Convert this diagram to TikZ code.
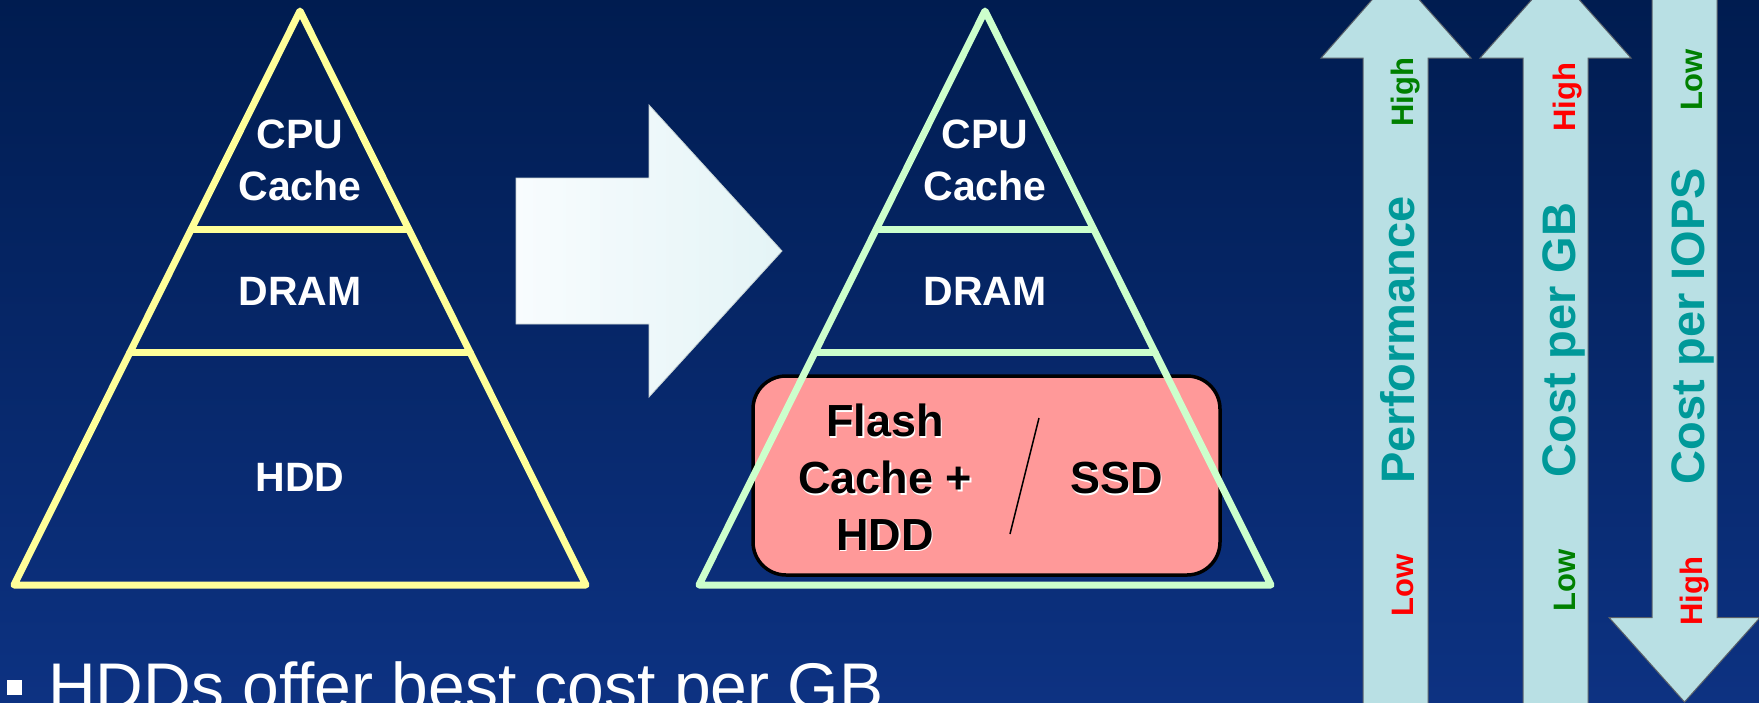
\documentclass[tikz,border=0pt]{standalone}
\usepackage{fontspec}
\setmainfont{Liberation Sans}
\usetikzlibrary{calc}
\definecolor{bgtop}{RGB}{0,28,80}
\definecolor{bgbot}{RGB}{13,50,130}
\definecolor{triyellow}{RGB}{255,255,153}
\definecolor{trigreen}{RGB}{204,255,204}
\definecolor{boxpink}{RGB}{255,153,153}
\definecolor{arrowfill}{RGB}{185,224,228}
\definecolor{arrowedge}{RGB}{90,96,104}
\definecolor{tealtext}{RGB}{0,153,153}
\definecolor{greentext}{RGB}{0,128,0}
\definecolor{redtext}{RGB}{255,0,0}
\definecolor{bigleft}{RGB}{248,252,254}
\definecolor{bigright}{RGB}{228,244,246}
\tikzset{
  trilbl/.style={font=\bfseries\fontsize{41}{50}\selectfont, text=white, anchor=base, inner sep=0},
  boxlbl/.style={font=\bfseries\fontsize{45}{55}\selectfont, text=black, anchor=base, inner sep=0},
  boxshadow/.style={font=\bfseries\fontsize{45}{55}\selectfont, text=white, anchor=base, inner sep=0},
  tri1/.style={draw=triyellow, line width=7, line join=round, line cap=round},
  tri2/.style={draw=trigreen, line width=7, line join=round, line cap=round},
  sidearrow/.style={fill=arrowfill, draw=arrowedge, line width=1},
  axislbl/.style={font=\bfseries\fontsize{47}{56}\selectfont, text=tealtext, rotate=90, anchor=base, inner sep=0},
  hilo/.style={font=\bfseries\fontsize{31}{36}\selectfont, rotate=90, anchor=base, inner sep=0},
}
\begin{document}
\begin{tikzpicture}[x=1pt,y=-1pt]
\useasboundingbox (0,0) rectangle (1759,702);
\clip (0,0) rectangle (1759,702);
\shade[top color=bgtop, bottom color=bgbot] (0,0) rectangle (1759,702);

% ---- left pyramid ----
\coordinate (A1) at (300,11);
\coordinate (L1) at (14,585);
\coordinate (R1) at (586,585);
\draw[tri1] (A1) -- (L1) -- (R1) -- cycle;
\draw[tri1] ($(A1)!0.3798!(L1)$) -- ($(A1)!0.3798!(R1)$);
\draw[tri1] ($(A1)!0.5958!(L1)$) -- ($(A1)!0.5958!(R1)$);
\node[trilbl] (cpuA) at (300,148) {CPU};
\node[trilbl] (cacheA) at (300,200) {Cache};
\node[trilbl] (dramA) at (300,305) {DRAM};
\node[trilbl] (hddA) at (300,491) {HDD};

% ---- big arrow ----
\draw[left color=bigleft, right color=bigright, draw=bigright!70!gray, line width=0.8]
  (516,178) -- (649,178) -- (649,105) -- (782,251) -- (649,397) -- (649,324) -- (516,324) -- cycle;

% ---- right pyramid ----
\coordinate (A2) at (985,11);
\coordinate (L2) at (699,585);
\coordinate (R2) at (1271,585);
\draw[fill=boxpink, draw=black, line width=3.5, rounded corners=33] (753,376) rectangle (1220,575);
\draw[tri2] (A2) -- (L2) -- (R2) -- cycle;
\draw[tri2] ($(A2)!0.3798!(L2)$) -- ($(A2)!0.3798!(R2)$);
\draw[tri2] ($(A2)!0.5958!(L2)$) -- ($(A2)!0.5958!(R2)$);
\node[trilbl] (cpuB) at (985,148) {CPU};
\node[trilbl] (cacheB) at (985,200) {Cache};
\node[trilbl] (dramB) at (985,305) {DRAM};

\node[boxshadow] (flashS) at (886.5,438) {Flash};
\node[boxshadow] (cacheS) at (886.5,495) {Cache +};
\node[boxshadow] (hddS) at (886.5,551.5) {HDD};
\node[boxshadow] (ssdS) at (1118,495) {SSD};
\node[boxlbl] (flash) at (885,436.5) {Flash};
\node[boxlbl] (cacheplus) at (885,493.5) {Cache +};
\node[boxlbl] (hddB) at (885,550) {HDD};
\node[boxlbl] (ssd) at (1116.5,493.5) {SSD};
\coordinate (slashT) at (1039,418);
\coordinate (slashB) at (1010,534);
\draw[line width=1.5] (slashT) -- (slashB);

% ---- side arrows ----
\draw[sidearrow] (1363,720) -- (1363,58) -- (1321,58) -- (1395.5,-27) -- (1471,58) -- (1428,58) -- (1428,720) -- cycle;
\draw[sidearrow] (1523,720) -- (1523,58) -- (1480,58) -- (1555.5,-27) -- (1631,58) -- (1588,58) -- (1588,720) -- cycle;
\draw[sidearrow] (1652,-20) -- (1652,617.5) -- (1609,617.5) -- (1684.5,702) -- (1760,617.5) -- (1717,617.5) -- (1717,-20) -- cycle;

\node[axislbl] (perf) at (1414,340) {Performance};
\node[hilo, text=greentext] (perfHi) at (1413,92) {High};
\node[hilo, text=redtext] (perfLo) at (1413,585) {Low};

\node[axislbl] (cgb) at (1575,340) {Cost per GB};
\node[hilo, text=redtext] (cgbHi) at (1575,97) {High};
\node[hilo, text=greentext] (cgbLo) at (1575,580) {Low};

\node[axislbl] (ciops) at (1704,326) {Cost per IOPS};
\node[hilo, text=greentext] (ciopsLo) at (1702,80) {Low};
\node[hilo, text=redtext] (ciopsHi) at (1702,591) {High};

% ---- bullet text ----
\fill[white] (7,680) rectangle (22,695);
\node[font=\fontsize{66}{78}\selectfont, text=white, anchor=base west, inner sep=0] (bullet) at (48,709) {HDDs offer best cost per GB};
\end{tikzpicture}
\end{document}
